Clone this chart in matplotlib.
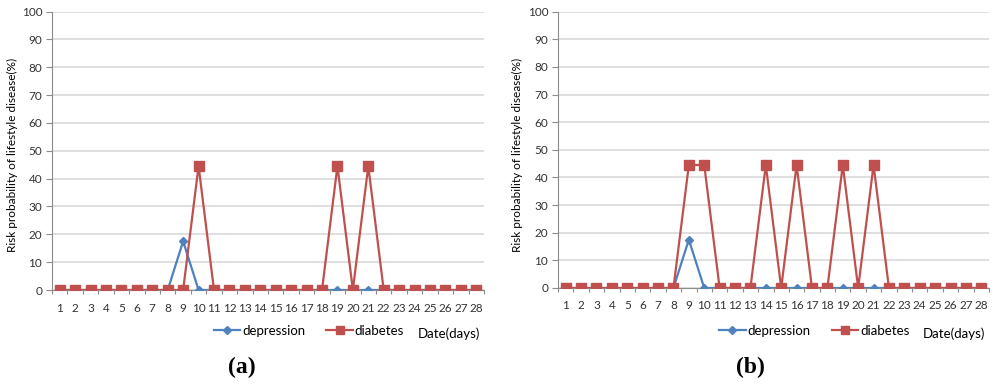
import matplotlib.pyplot as plt
import numpy as np

days = list(range(1, 29))

# panel (a)
depression_a = [0, 0, 0, 0, 0, 0, 0, 0, 17.5, 0, 0, 0, 0, 0,
                0, 0, 0, 0, 0, 0, 0, 0, 0, 0, 0, 0, 0, 0]
diabetes_a = [0, 0, 0, 0, 0, 0, 0, 0, 0, 44.5, 0, 0, 0, 0,
              0, 0, 0, 0, 44.5, 0, 44.5, 0, 0, 0, 0, 0, 0, 0]

# panel (b)
depression_b = [0, 0, 0, 0, 0, 0, 0, 0, 17.5, 0, 0, 0, 0, 0,
                0, 0, 0, 0, 0, 0, 0, 0, 0, 0, 0, 0, 0, 0]
diabetes_b = [0, 0, 0, 0, 0, 0, 0, 0, 44.5, 44.5, 0, 0, 0, 44.5,
              0, 44.5, 0, 0, 44.5, 0, 44.5, 0, 0, 0, 0, 0, 0, 0]

yticks = list(range(0, 101, 10))
panel_labels = ['a', 'b']

BLUE = '#4F81BD'
RED = '#C0504D'
GRID = '#D9D9D9'
AXIS = '#8C8C8C'

plt.rcParams['font.family'] = ['Lato', 'DejaVu Sans']

fig = plt.figure(figsize=(10, 3.86), dpi=100)

panels = [
    (depression_a, diabetes_a, [0.052, 0.2487, 0.432, 0.7215], 0.012, 0.242),
    (depression_b, diabetes_b, [0.558, 0.2539, 0.431, 0.716], 0.517, 0.750),
]

for (dep, dia, rect, ylab_x, cap_x), lab in zip(panels, panel_labels):
    ax = fig.add_axes(rect)
    ax.plot(days, dep, color=BLUE, lw=1.6, marker='D', markersize=4.5,
            label='depression', zorder=3)
    ax.plot(days, dia, color=RED, lw=1.6, marker='s', markersize=6.5,
            label='diabetes', zorder=4)

    ax.set_xlim(0.5, 28.5)
    ax.set_ylim(0, 100)
    ax.set_yticks(yticks)
    ax.set_xticks(days)
    ax.set_xticks(np.arange(0.5, 29, 1), minor=True)
    ax.tick_params(axis='x', which='major', length=0, labelsize=8.5, pad=9,
                   labelcolor='#333333')
    ax.tick_params(axis='x', which='minor', length=3, color=AXIS, width=0.8)
    ax.tick_params(axis='y', length=4, color=AXIS, labelsize=8.5,
                   labelcolor='#333333', pad=3)
    ax.grid(axis='y', color=GRID, lw=1.2)
    ax.set_axisbelow(True)
    for s in ['top', 'right']:
        ax.spines[s].set_visible(False)
    ax.spines['left'].set_color(AXIS)
    ax.spines['bottom'].set_color(AXIS)
    ax.spines['left'].set_linewidth(0.8)
    ax.spines['bottom'].set_linewidth(0.8)

    fig.text(ylab_x, rect[1] + rect[3] / 2 - 0.012,
             'Risk probability of lifestyle disease(%)',
             rotation=90, va='center', ha='center', fontsize=8.5)

    x0 = rect[0]
    w = rect[2]
    leg = fig.legend(handles=ax.get_lines(), loc='center',
                     bbox_to_anchor=(x0 + w * 0.595, 1 - 331 / 386), ncol=2,
                     frameon=False, fontsize=9.5, handlelength=2.0,
                     handletextpad=0.15, columnspacing=1.6, markerscale=0.9)
    fig.text(x0 + w * 0.99, 1 - 334 / 386, 'Date(days)', ha='right',
             va='center', fontsize=9.5)

    fig.text(cap_x, 1 - 367 / 386, '(' + lab + ')', ha='center', va='center',
             fontsize=17, fontweight='bold', family='Liberation Serif')

fig.savefig('out.png', dpi=100)
